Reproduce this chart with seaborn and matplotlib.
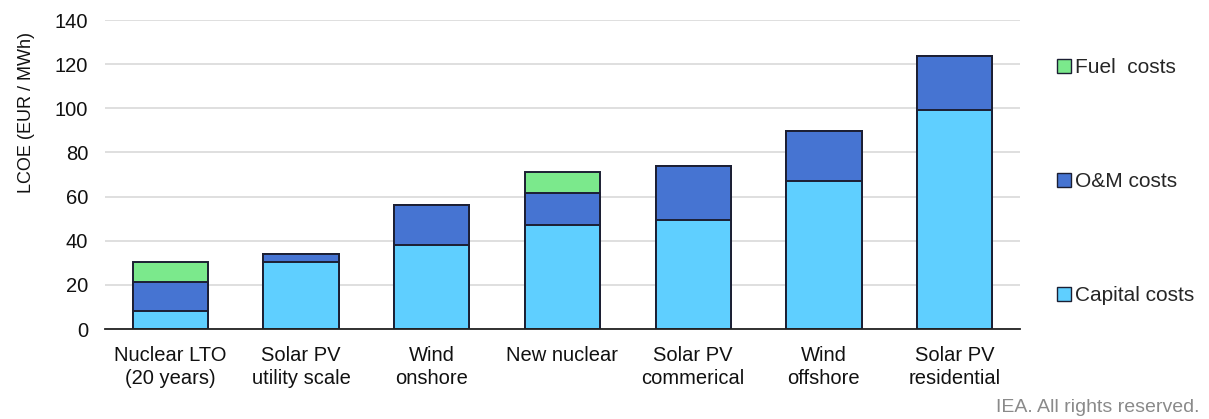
import matplotlib
matplotlib.use("Agg")
import matplotlib.pyplot as plt
import seaborn as sns
import pandas as pd
import numpy as np
from matplotlib.patches import Patch

# LCOE components by technology (EUR / MWh)
technologies = ["Nuclear LTO\n(20 years)", "Solar PV\nutility scale", "Wind\nonshore",
                "New nuclear", "Solar PV\ncommerical", "Wind\noffshore", "Solar PV\nresidential"]
capital_costs = [8.2, 30.4, 38.0, 47.3, 49.5, 67.0, 99.2]
om_costs = [13.0, 3.6, 18.0, 14.3, 24.4, 22.7, 24.4]
fuel_costs = [9.2, 0.0, 0.0, 9.4, 0.0, 0.0, 0.0]

series_labels = ["Fuel  costs", "O&M costs", "Capital costs"]
colors = {"Capital costs": "#5fcfff", "O&M costs": "#4674d2", "Fuel  costs": "#7be98c"}

df = pd.DataFrame({"tech": technologies, "capital": capital_costs,
                   "om": om_costs, "fuel": fuel_costs})
df["cap_om"] = df["capital"] + df["om"]
df["total"] = df["cap_om"] + df["fuel"]

sns.set_theme(style="white")
plt.rcParams["font.family"] = ["Liberation Sans", "DejaVu Sans"]

fig = plt.figure(figsize=(12.09, 4.19), dpi=100)
ax = fig.add_axes([105 / 1209, 1 - 329 / 419, 915 / 1209, 309 / 419])

edge = "#1c1f33"
width = 0.575
# stacked layers drawn from the tallest cumulative value down
for col, key in [("total", "Fuel  costs"), ("cap_om", "O&M costs"), ("capital", "Capital costs")]:
    sns.barplot(data=df, x="tech", y=col, color=colors[key], saturation=1,
                width=width, edgecolor=edge, linewidth=1.4, ax=ax, zorder=3)

ax.set_ylim(0, 140)
ax.set_xlim(-0.5, len(technologies) - 0.5)
ax.set_yticks(np.arange(0, 141, 20))
ax.yaxis.grid(True, color="#d9d9d9", linewidth=1.2, zorder=0)
ax.set_axisbelow(True)
for s in ["top", "right", "left"]:
    ax.spines[s].set_visible(False)
ax.spines["bottom"].set_color("#222222")
ax.spines["bottom"].set_linewidth(1.3)
ax.spines["bottom"].set_zorder(5)

ax.tick_params(axis="y", length=0, pad=12, labelsize=14.5, labelcolor="#111111")
ax.tick_params(axis="x", length=0, pad=12, labelsize=14.5, labelcolor="#111111")
for lbl in ax.get_xticklabels():
    lbl.set_linespacing(1.3)
ax.set_xlabel("")
ax.set_ylabel("LCOE (EUR / MWh)", fontsize=13, color="#111111")
ax.yaxis.set_label_coords(-0.077, 0.70)

handles = [Patch(facecolor=colors[k], edgecolor=edge, linewidth=1.0) for k in series_labels]
leg = fig.legend(handles, series_labels, loc="upper left", bbox_to_anchor=(1049 / 1209, 1 - 50 / 419),
                 frameon=False, fontsize=15, handlelength=0.65, handleheight=0.65,
                 handletextpad=0.2, labelspacing=4.55, borderaxespad=0)

fig.text(1200 / 1209, 1 - 407 / 419, "IEA. All rights reserved.", ha="right", va="center",
         fontsize=14, color="#8a8a8a")

fig.savefig("out.png", dpi=100)
